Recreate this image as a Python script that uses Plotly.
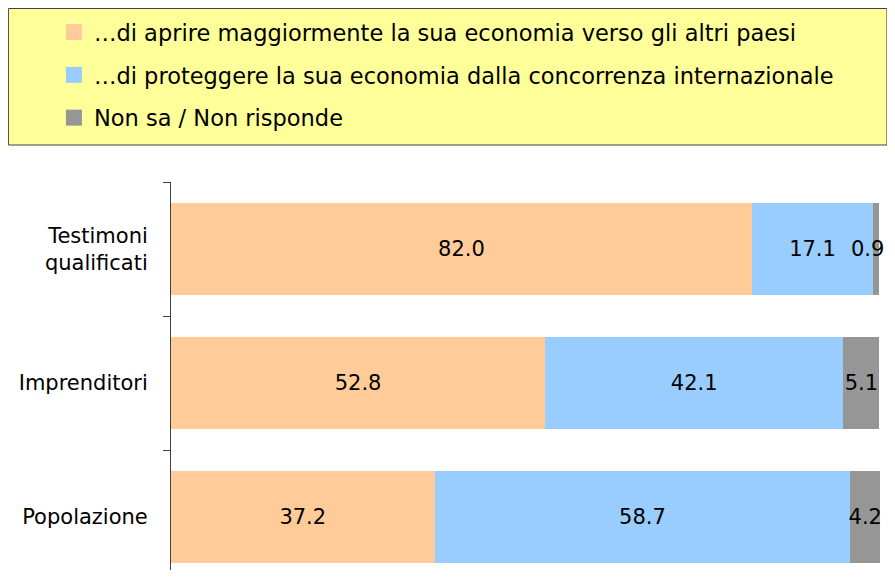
import plotly.graph_objects as go

categories = ["Testimoni<br>qualificati", "Imprenditori", "Popolazione"]
series_names = [
    "…di aprire maggiormente la sua economia verso gli altri paesi",
    "…di proteggere la sua economia dalla concorrenza internazionale",
    "Non sa / Non risponde",
]
aprire = [82.0, 52.8, 37.2]
proteggere = [17.1, 42.1, 58.7]
non_sa = [0.9, 5.1, 4.2]

colors = ["#FFCC99", "#99CCFF", "#969696"]
FONT = "DejaVu Sans, Liberation Sans, Arial, sans-serif"

# page body has an 8px margin: work in window pixels, shift by OFF
OFF = 8
XMAX = 100.5
W, H = 895 - 2 * OFF, 578 - 2 * OFF
L, T, B = 171 - OFF, 182 - OFF, 0
pw = 708.0 * XMAX / 100.0
R = W - L - pw
ph = H - T - B


def px(xw):
    return (xw - OFF - L) / pw


def py(yw):
    return (H - B - (yw - OFF)) / ph


series_vals = [aprire, proteggere, non_sa]
fig = go.Figure()
for i, (name, vals) in enumerate(zip(series_names, series_vals)):
    labels = [f"{v:.1f}" for v in vals]
    if i == 2:
        # very thin first segment: its label is placed by an annotation below
        labels[0] = ""
    fig.add_trace(go.Bar(
        y=categories, x=vals, name=name, orientation="h",
        marker=dict(color=colors[i], line=dict(width=0)),
        text=labels, textposition="inside",
        insidetextanchor="middle", textangle=0, constraintext="none",
        cliponaxis=False,
        textfont=dict(family=FONT, size=21, color="black"),
        width=0.68, showlegend=False, hoverinfo="skip",
    ))

total0 = aprire[0] + proteggere[0] + non_sa[0]
fig.add_annotation(x=total0, y=categories[0], xref="x", yref="y",
                   text=f"{non_sa[0]:.1f}", showarrow=False,
                   xanchor="right", yanchor="middle", xshift=7,
                   font=dict(family=FONT, size=21, color="black"))

# legend entries with square swatches
for i, name in enumerate(series_names):
    fig.add_trace(go.Scatter(
        x=[None], y=[None], mode="markers", name=name,
        marker=dict(symbol="square", size=16, color=colors[i]),
        legendgroup=f"g{i}", showlegend=True, hoverinfo="skip",
    ))

fig.add_shape(type="rect", xref="paper", yref="paper",
              x0=px(8.5), x1=px(886.5), y0=py(145), y1=py(8.5),
              fillcolor="#FFFF99", line=dict(color="#404040", width=1), layer="below")

fig.update_layout(
    width=W, height=H, barmode="stack",
    margin=dict(l=L, r=R, t=T, b=B),
    paper_bgcolor="white", plot_bgcolor="white",
    font=dict(family=FONT, size=21, color="black"),
    showlegend=True,
    legend=dict(x=px(54), y=py(11), xanchor="left", yanchor="top",
                bgcolor="rgba(0,0,0,0)", borderwidth=0,
                traceorder="grouped", tracegroupgap=10.5,
                font=dict(family=FONT, size=22.5, color="black")),
    xaxis=dict(range=[0, XMAX], visible=False, showgrid=False, zeroline=False),
    yaxis=dict(type="category", range=[-0.5 + ph / 134.0, -0.5],
               showline=True, linecolor="#404040", linewidth=1,
               ticks="outside", ticklen=7, tickcolor="#404040",
               tickson="boundaries", showgrid=False, zeroline=False,
               ticklabelstandoff=18,
               tickfont=dict(family=FONT, size=21, color="black")),
)

fig.write_html("out.html")
